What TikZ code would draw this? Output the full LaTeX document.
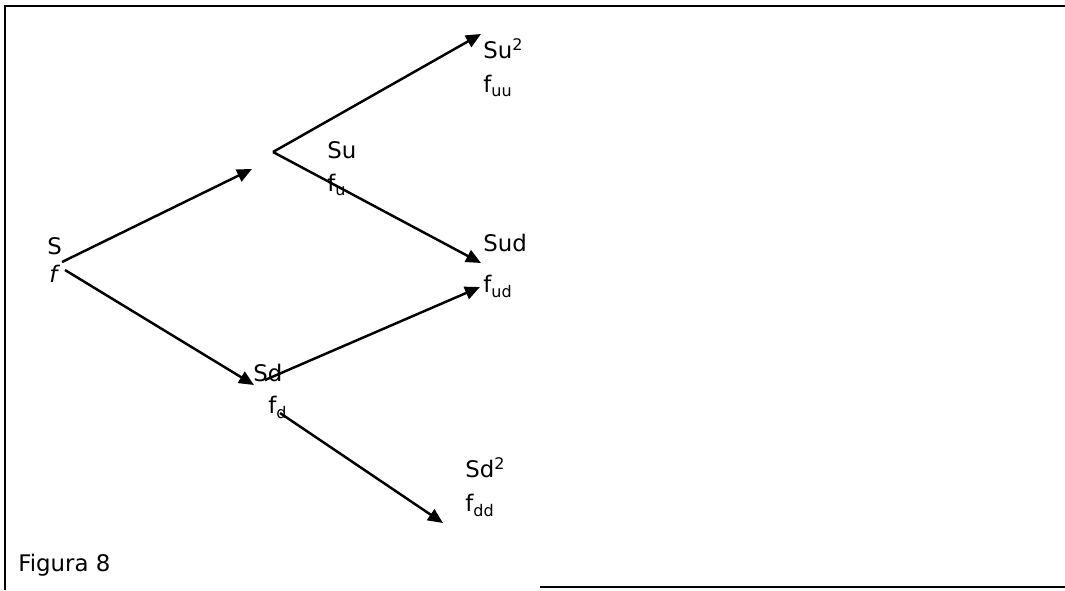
\documentclass[tikz,border=0pt]{standalone}
\usepackage{fontspec}
\setmainfont{DejaVu Sans}
\usetikzlibrary{arrows.meta,positioning}

\begin{document}
\begin{tikzpicture}[
    font=\fontsize{13}{15}\selectfont,
    >={Triangle[length=3mm, width=2.6mm]},
    branch/.style={black, line width=1.4pt, ->},
    frame/.style={black, line width=1.3pt},
    lbl/.style={anchor=west, inner sep=0pt}
]
\useasboundingbox (0,0) rectangle (21.3,-11.8);

% Frame
\draw[frame] (0.1,-11.8) -- (0.1,-0.12) -- (21.3,-0.12);
\draw[frame] (10.8,-11.74) -- (21.3,-11.74);

% =====================================================
% POINTS
% =====================================================

\coordinate (sUp) at (1.24,-5.24);
\coordinate (sDn) at (1.30,-5.40);
\coordinate (uTip) at (5.04,-3.38);
\coordinate (u) at (5.46,-3.04);
\coordinate (uuTip) at (9.62,-0.68);
\coordinate (udTip) at (9.62,-5.26);
\coordinate (dTip) at (5.08,-7.70);
\coordinate (d) at (5.30,-7.60);
\coordinate (dudTip) at (9.60,-5.74);
\coordinate (dd) at (5.60,-8.26);
\coordinate (ddTip) at (8.86,-10.46);

% =====================================================
% LABELS
% =====================================================

\node[lbl] (sS) at (0.94,-4.92) {S};
\node[lbl] (sF) at (0.98,-5.48) {\textit{f}};

\node[lbl] (uS) at (6.54,-3.00) {Su};
\node[lbl] (uF) at (6.54,-3.70) {f\textsubscript{u}};

\node[lbl] (uuS) at (9.66,-0.98) {Su\textsuperscript{2}};
\node[lbl] (uuF) at (9.66,-1.72) {f\textsubscript{uu}};

\node[lbl] (udS) at (9.66,-4.86) {Sud};
\node[lbl] (udF) at (9.66,-5.72) {f\textsubscript{ud}};

\node[lbl] (dS) at (5.06,-7.46) {Sd};
\node[lbl] (dF) at (5.36,-8.14) {f\textsubscript{d}};

\node[lbl] (ddS) at (9.30,-9.36) {Sd\textsuperscript{2}};
\node[lbl] (ddF) at (9.30,-10.10) {f\textsubscript{dd}};

\node[lbl] (caption) at (0.36,-11.30) {Figura 8};

% =====================================================
% BRANCHES
% =====================================================

\draw[branch] (sUp) -- (uTip);
\draw[branch] (sDn) -- (dTip);
\draw[branch] (u) -- (uuTip);
\draw[branch] (u) -- (udTip);
\draw[branch] (d) -- (dudTip);
\draw[branch] (dd) -- (ddTip);

\end{tikzpicture}
\end{document}
